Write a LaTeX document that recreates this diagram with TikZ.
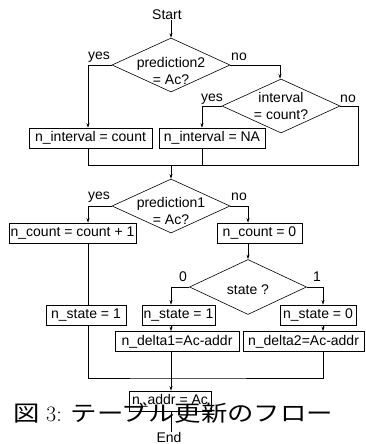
\documentclass[tikz,border=0pt]{standalone}
\usepackage{fontspec}
\newfontfamily\lab{Liberation Sans}
\newfontfamily\cjk[FakeStretch=1.2]{Noto Sans CJK JP}
\usetikzlibrary{shapes.geometric,arrows.meta}
\begin{document}
\begin{tikzpicture}[
    x=1pt,y=-1pt,>={Stealth[length=4.5pt,width=3pt]},
    font=\lab\fontsize{14}{17}\selectfont,
    flow/.style={black,line width=.6pt},
    proc/.style={draw,line width=.6pt,rectangle,minimum height=20,inner sep=1pt},
    test/.style={draw,line width=.6pt,diamond,inner sep=0,minimum width=118,minimum height=54},
    test text/.style={align=center,inner sep=0},
    branch/.style={inner sep=0}
  ]
    \useasboundingbox (0,0) rectangle (365,444);

    % Columns used by the connectors.
    \coordinate (colL) at (88,0);
    \coordinate (colM) at (171,0);
    \coordinate (colB) at (202,0);
    \coordinate (colS) at (248,0);
    \coordinate (colD) at (280,0);
    \coordinate (colR) at (323,0);
    \coordinate (colN) at (358,0);

    \node[branch] (start) at (167,15) {Start};

    % First test: prediction2
    \node[test] (d2) at (171,65) {};
    \node[test text] (d2t) at (171,71) {prediction2\\= Ac?};
    \node[branch] (y1) at (99,57) {yes};
    \node[branch] (n1) at (239,57) {no};

    \node[test] (di) at (281,106) {};
    \node[test text] (dit) at (281,106) {interval\\= count?};
    \node[branch] (y2) at (212,99) {yes};
    \node[branch] (n2) at (348,99) {no};

    \node[proc,minimum width=123] (ivc) at (90.5,138) {n\_interval = count};
    \node[proc,minimum width=106] (ivn) at (212,138) {n\_interval = NA};

    \coordinate (m1) at (171,165);

    % Second test: prediction1
    \node[test] (d1) at (171,206) {};
    \node[test text] (d1t) at (171,211) {prediction1\\= Ac?};
    \node[branch] (y3) at (99,197) {yes};
    \node[branch] (n3) at (239,197) {no};

    \node[proc,minimum width=127] (cinc) at (72.5,233) {n\_count = count + 1};
    \node[proc,minimum width=85] (czero) at (259.5,233) {n\_count = 0};

    \node[test,minimum width=117,minimum height=55] (dst) at (248,287) {};
    \node[test text] (dstt) at (248,290) {state ?};
    \node[branch] (b0) at (183,277) {0};
    \node[branch] (b1) at (317,277) {1};

    \node[proc,minimum width=80] (sl) at (86,315) {n\_state = 1};
    \node[proc,minimum width=73] (sm) at (178.5,315) {n\_state = 1};
    \node[proc,minimum width=76] (sz) at (318,315) {n\_state = 0};

    \node[proc,minimum width=124] (dl1) at (177,341.5) {n\_delta1=Ac-addr};
    \node[proc,minimum width=121] (dl2) at (303.5,341.5) {n\_delta2=Ac-addr};

    \coordinate (m2) at (171,378);

    \node[proc,minimum width=82] (addr) at (170,401) {n\_addr = Ac};
    \node[branch] (end) at (169,437) {End};

    % Connectors
    \draw[flow,->] (colM |- start.south) -- (d2.north);
    \draw[flow,->] (d2.west) -| (colL |- ivc.north);
    \draw[flow,->] (d2.east) -| (colD |- di.north);
    \draw[flow,->] (di.west) -| (colB |- ivn.north);
    \draw[flow] (di.east) -| (colN |- m1) -- (colL |- m1) -- (colL |- ivc.south);
    \draw[flow] (colB |- ivn.south) -- (colB |- m1);
    \draw[flow,->] (m1) -- (d1.north);

    \draw[flow,->] (d1.west) -| (colL |- cinc.north);
    \draw[flow,->] (d1.east) -| (colS |- czero.north);
    \draw[flow,->] (colS |- czero.south) -- (dst.north);
    \draw[flow] (colL |- cinc.south) -- (colL |- sl.north);
    \draw[flow,->] (dst.west) -| (colM |- sm.north);
    \draw[flow,->] (dst.east) -| (colR |- sz.north);
    \draw[flow,->] (colM |- sm.south) -- (colM |- dl1.north);
    \draw[flow,->] (colR |- sz.south) -- (colR |- dl2.north);

    \draw[flow] (colL |- sl.south) |- (m2) -| (colR |- dl2.south);
    \draw[flow,->] (colM |- dl1.south) -- (colM |- addr.north);
    \draw[flow] (colM |- addr.south) -- (colM |- end.north);

    % Caption set over the figure
    \node[anchor=base west,inner sep=0,font=\rmfamily\fontsize{22}{24}\selectfont] (cap) at (13,421)
      {{\cjk 図} 3: {\cjk テーブル更新のフロー}};
  \end{tikzpicture}
\end{document}
